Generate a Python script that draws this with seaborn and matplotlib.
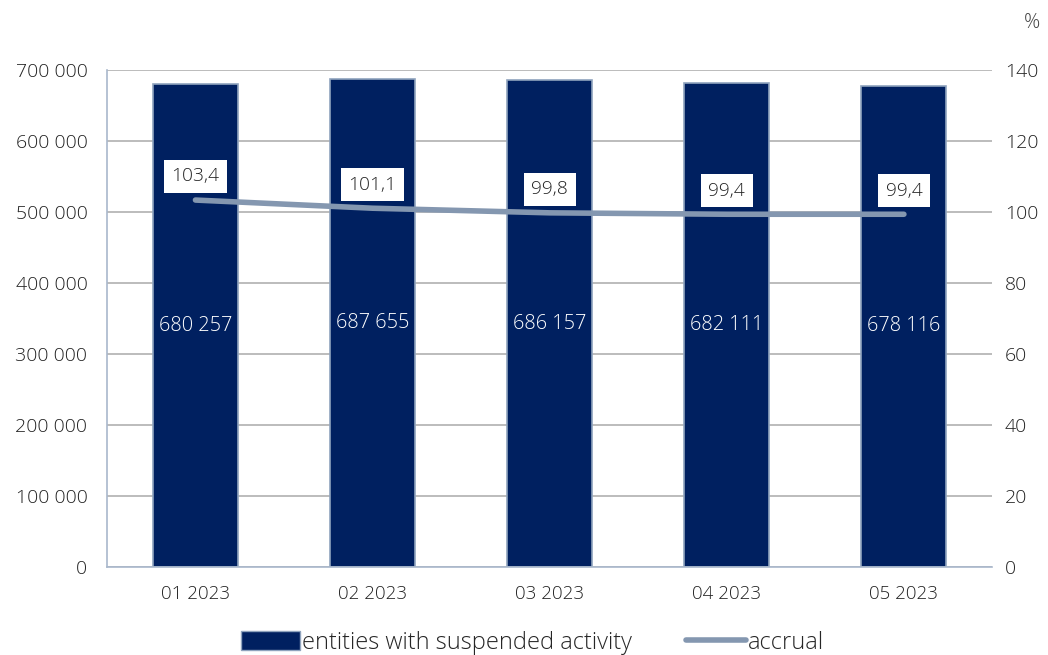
import pandas as pd
import seaborn as sns
import matplotlib.pyplot as plt
from matplotlib.patches import Patch
from matplotlib.lines import Line2D

# --- DATA ---
months = ['01 2023', '02 2023', '03 2023', '04 2023', '05 2023']
entities = [680257, 687655, 686157, 682111, 678116]
accrual = [103.4, 101.1, 99.8, 99.4, 99.4]

bar_color = '#002060'
line_color = '#8497B0'
text_color = '#222222'

df = pd.DataFrame({'month': months, 'entities': entities, 'accrual': accrual})
df['pos'] = range(len(df))

sns.set_theme(style='white')
plt.rcParams['font.family'] = ['Open Sans', 'DejaVu Sans']
plt.rcParams['font.weight'] = 'light'

fig = plt.figure(figsize=(10.48, 6.55), dpi=100)
ax = fig.add_axes([0.102, 0.134, 0.845, 0.759])

# 1. Bars (left axis)
sns.barplot(data=df, x='month', y='entities', color=bar_color, width=0.48,
            edgecolor='#8FA3BD', linewidth=1.2, saturation=1, ax=ax, zorder=2)
ax.set_ylim(0, 700000)
ax.set_yticks(range(0, 700001, 100000))
ax.set_yticklabels([f'{v:,}'.replace(',', ' ') for v in range(0, 700001, 100000)])
ax.yaxis.grid(True, color='#B0B0B0', linewidth=1.2, zorder=0)
ax.set_axisbelow(True)
ax.set_xlabel('')
ax.set_ylabel('')
ax.set_xlim(-0.5, 4.5)
for s in ['top', 'right']:
    ax.spines[s].set_visible(False)
for s in ['left', 'bottom']:
    ax.spines[s].set_color('#A9B8CC')
    ax.spines[s].set_linewidth(1.2)
ax.tick_params(axis='y', labelsize=14, colors=text_color, length=0, pad=14)
ax.tick_params(axis='x', labelsize=13.5, colors=text_color, length=0, pad=13)

for p, v in zip(df['pos'], df['entities']):
    ax.text(p, v / 2, f'{v:,}'.replace(',', ' '), ha='center', va='center',
            color='white', fontsize=14.3)

# 2. Line (right axis)
ax2 = ax.twinx()
sns.lineplot(data=df, x='pos', y='accrual', color=line_color, linewidth=4,
             ax=ax2, solid_capstyle='round')
ax2.set_ylim(0, 140)
ax2.set_yticks(range(0, 141, 20))
ax2.set_ylabel('')
ax2.set_xlabel('')
ax2.set_xlim(-0.5, 4.5)
for s in ax2.spines.values():
    s.set_visible(False)
ax2.tick_params(axis='y', labelsize=14, colors=text_color, length=0, pad=9)

for p, v in zip(df['pos'], df['accrual']):
    ax2.annotate(f'{v:.1f}'.replace('.', ','), (p, v), xytext=(0, 17),
                 textcoords='offset points', ha='center', va='center',
                 fontsize=13.8, color=text_color,
                 bbox=dict(boxstyle='square,pad=0.4', fc='white', ec='none'))

fig.text(0.985, 0.965, '%', ha='center', va='center', fontsize=14.5, color='#444444')

# 3. Legend
handles = [Patch(facecolor=bar_color, edgecolor='#8FA3BD', label='entities with suspended activity'),
           Line2D([0], [0], color=line_color, linewidth=4, solid_capstyle='round', label='accrual')]
fig.legend(handles=handles, loc='lower center', bbox_to_anchor=(0.508, -0.032), ncol=2,
           frameon=False, fontsize=17, handlelength=2.5, handleheight=0.85,
           handletextpad=0.1, columnspacing=2.3)

plt.savefig('out.png', dpi=100)
